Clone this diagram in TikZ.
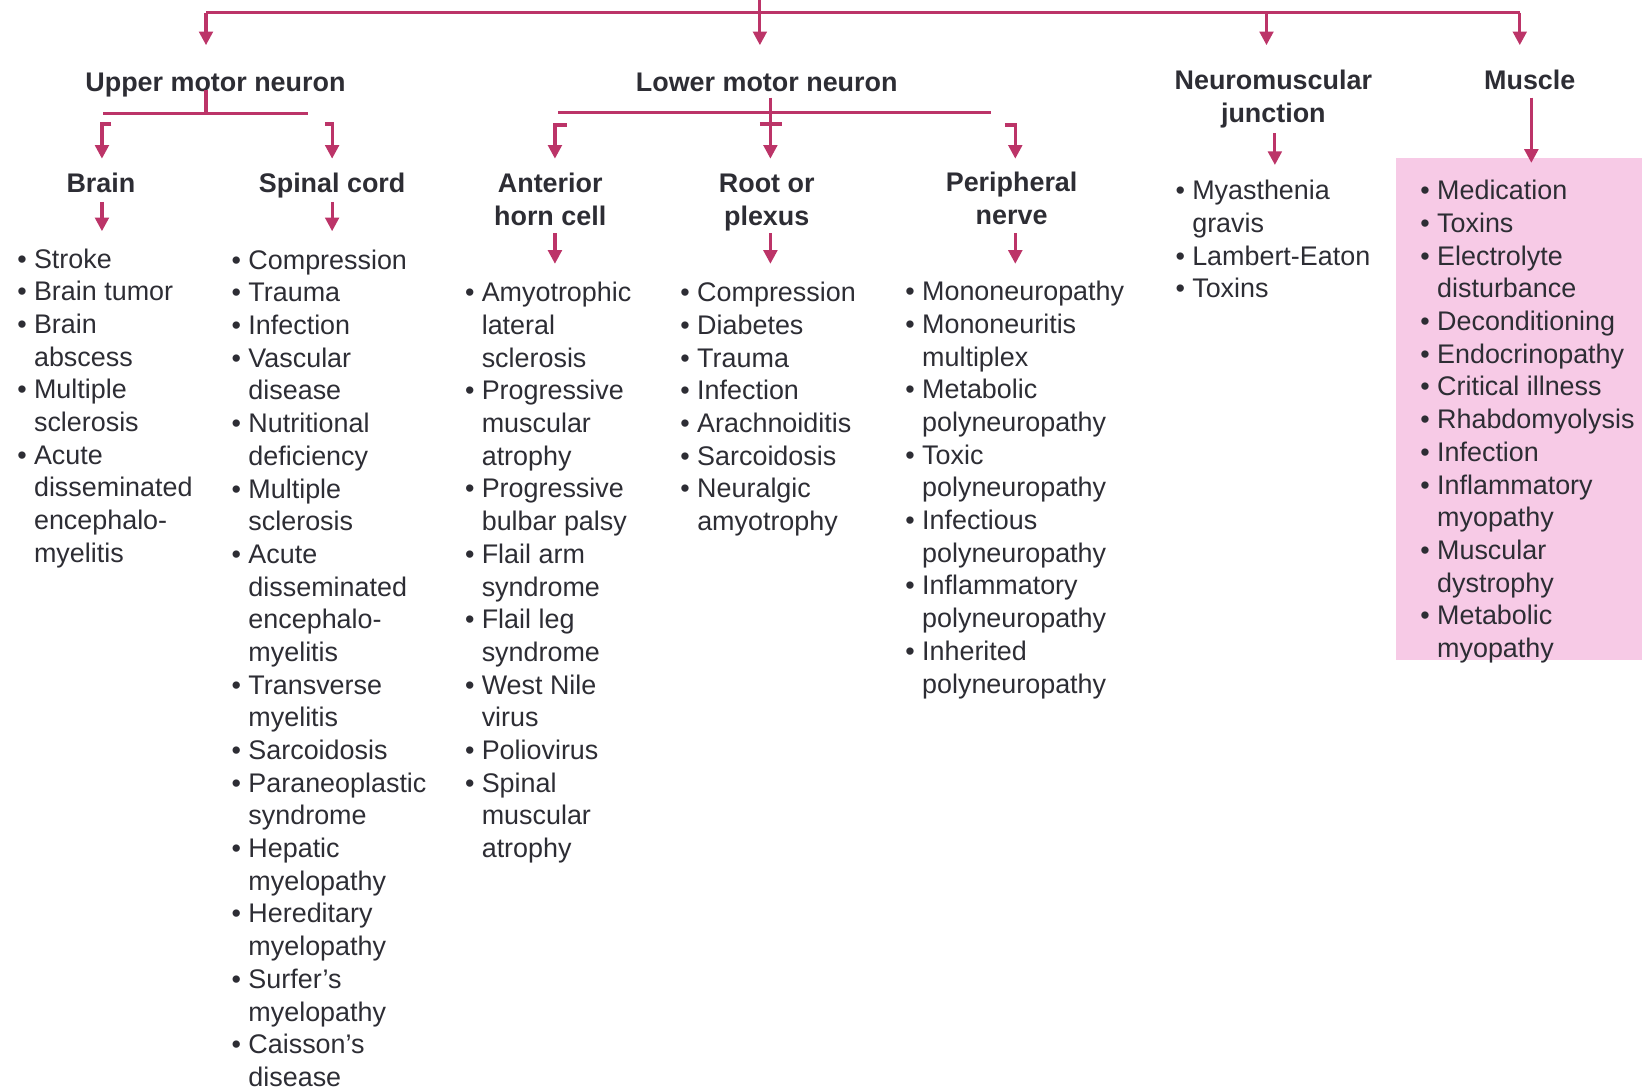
\documentclass[tikz,border=0pt]{standalone}
\usepackage{fontspec}
\setmainfont{Liberation Sans}
\usetikzlibrary{arrows.meta}
\definecolor{conn}{RGB}{188,52,104}
\definecolor{pinkbg}{RGB}{247,202,230}
\definecolor{txt}{RGB}{45,45,52}
\newcommand\bu{\strut\makebox[0pt][r]{\textbullet\hspace{3.5pt}}}
\tikzset{
  line/.style={draw=conn, line width=1.5pt},
  arr/.style={line, -{Triangle[length=6.5pt,width=6.5pt]}},
  head/.style={font={\fontsize{12.8}{15.55}\selectfont\bfseries}, text=txt, inner sep=0pt, align=center, anchor=north},
  list/.style={font={\fontsize{12.8}{15.55}\selectfont}, text=txt, inner sep=0pt, align=left, anchor=north west},
}
\begin{document}
\begin{tikzpicture}[x=0.5pt,y=-0.5pt]
\useasboundingbox (0,0) rectangle (1568,1036);
% pink box
\fill[pinkbg] (1328,150) rectangle (1562,628);

% headers
\node[head] (umn) at (205,65) {\strut Upper motor neuron};
\node[head] (lmn) at (729.5,65) {\strut Lower motor neuron};
\node[head] (nmj) at (1211.5,63) {\strut Neuromuscular\\junction};
\node[head] (mus) at (1455.5,63) {\strut Muscle};
\node[head] (brain) at (96,161) {\strut Brain};
\node[head] (spinal) at (316,161) {\strut Spinal cord};
\node[head] (ahc) at (523.5,161) {\strut Anterior\\horn cell};
\node[head] (rop) at (729.5,161) {\strut Root or\\plexus};
\node[head] (pn) at (962.5,160) {\strut Peripheral\\nerve};

% lists
\node[list] (lbrain) at (32,233) {\bu Stroke\\\bu Brain tumor\\\bu Brain\\abscess\\\bu Multiple\\sclerosis\\\bu Acute\\disseminated\\encephalo-\\myelitis};
\node[list] (lspinal) at (236,234) {\bu Compression\\\bu Trauma\\\bu Infection\\\bu Vascular\\disease\\\bu Nutritional\\deficiency\\\bu Multiple\\sclerosis\\\bu Acute\\disseminated\\encephalo-\\myelitis\\\bu Transverse\\myelitis\\\bu Sarcoidosis\\\bu Paraneoplastic\\syndrome\\\bu Hepatic\\myelopathy\\\bu Hereditary\\myelopathy\\\bu Surfer's\\myelopathy\\\bu Caisson's\\disease};
\node[list] (lahc) at (458,265) {\bu Amyotrophic\\lateral\\sclerosis\\\bu Progressive\\muscular\\atrophy\\\bu Progressive\\bulbar palsy\\\bu Flail arm\\syndrome\\\bu Flail leg\\syndrome\\\bu West Nile\\virus\\\bu Poliovirus\\\bu Spinal\\muscular\\atrophy};
\node[list] (lrop) at (663,265) {\bu Compression\\\bu Diabetes\\\bu Trauma\\\bu Infection\\\bu Arachnoiditis\\\bu Sarcoidosis\\\bu Neuralgic\\amyotrophy};
\node[list] (lpn) at (877,264) {\bu Mononeuropathy\\\bu Mononeuritis\\multiplex\\\bu Metabolic\\polyneuropathy\\\bu Toxic\\polyneuropathy\\\bu Infectious\\polyneuropathy\\\bu Inflammatory\\polyneuropathy\\\bu Inherited\\polyneuropathy};
\node[list] (lnmj) at (1134,168) {\bu Myasthenia\\gravis\\\bu Lambert-Eaton\\\bu Toxins};
\node[list] (lmus) at (1367,168) {\bu Medication\\\bu Toxins\\\bu Electrolyte\\disturbance\\\bu Deconditioning\\\bu Endocrinopathy\\\bu Critical illness\\\bu Rhabdomyolysis\\\bu Infection\\\bu Inflammatory\\myopathy\\\bu Muscular\\dystrophy\\\bu Metabolic\\myopathy};

% top level connectors
\coordinate (src) at (723,0);
\coordinate (tj) at (723,12);
\coordinate (tL) at (196,12);
\coordinate (tN) at (1205,12);
\coordinate (tR) at (1446,12);
\coordinate (aU) at (196,43);
\coordinate (aL) at (723,43);
\coordinate (aN) at (1205,43);
\coordinate (aM) at (1446,43);
\draw[line] (src) -- (tj);
\draw[line] (tL) -- (tR);
\draw[arr] (tL) -- (aU);
\draw[arr] (tj) -- (aL);
\draw[arr] (tN) -- (aN);
\draw[arr] (tR) -- (aM);

% upper motor neuron branch
\coordinate (u0) at (196,86);
\coordinate (u1) at (196,108);
\coordinate (uL) at (98,108);
\coordinate (uR) at (293,108);
\coordinate (ub1) at (106,118);
\coordinate (ub2) at (97,118);
\coordinate (ub3) at (97,151);
\coordinate (us1) at (309,118);
\coordinate (us2) at (316,118);
\coordinate (us3) at (316,151);
\draw[line] (u0) -- (u1);
\draw[line] (uL) -- (uR);
\draw[arr] (ub1) -- (ub2) -- (ub3);
\draw[arr] (us1) -- (us2) -- (us3);
\coordinate (bb1) at (97,192);
\coordinate (bb2) at (97,220);
\coordinate (sb1) at (316,192);
\coordinate (sb2) at (316,220);
\draw[arr] (bb1) -- (bb2);
\draw[arr] (sb1) -- (sb2);

% lower motor neuron branch
\coordinate (l0) at (733,93);
\coordinate (l3) at (733,151);
\coordinate (lL) at (531,107);
\coordinate (lR) at (943,107);
\coordinate (lt1) at (723,118);
\coordinate (lt2) at (744,118);
\coordinate (la1) at (539,119);
\coordinate (la2) at (528,119);
\coordinate (la3) at (528,151);
\coordinate (lp1) at (956,119);
\coordinate (lp2) at (966,119);
\coordinate (lp3) at (966,151);
\draw[line] (lL) -- (lR);
\draw[line] (lt1) -- (lt2);
\draw[arr] (l0) -- (l3);
\draw[arr] (la1) -- (la2) -- (la3);
\draw[arr] (lp1) -- (lp2) -- (lp3);
\coordinate (ah1) at (528,222);
\coordinate (ah2) at (528,251);
\coordinate (rp1) at (733,222);
\coordinate (rp2) at (733,251);
\coordinate (pn1) at (966,222);
\coordinate (pn2) at (966,251);
\draw[arr] (ah1) -- (ah2);
\draw[arr] (rp1) -- (rp2);
\draw[arr] (pn1) -- (pn2);

% NMJ and muscle
\coordinate (n1) at (1213,127);
\coordinate (n2) at (1213,157);
\coordinate (m1) at (1457,93);
\coordinate (m2) at (1457,155);
\draw[arr] (n1) -- (n2);
\draw[arr] (m1) -- (m2);
\end{tikzpicture}
\end{document}
